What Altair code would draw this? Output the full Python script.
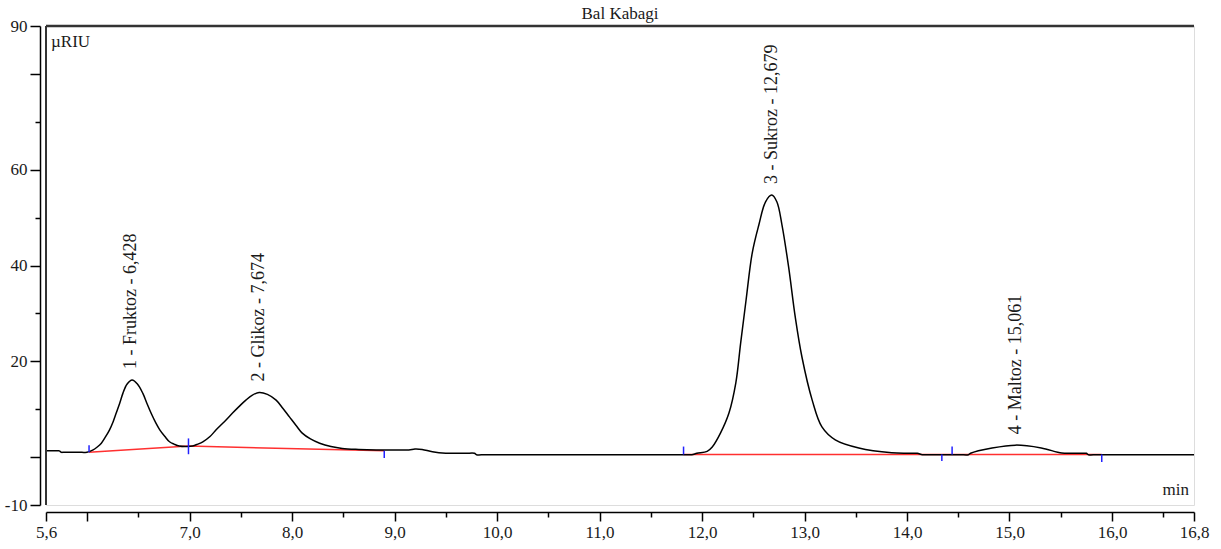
import altair as alt
import pandas as pd

# ---- data ----
trace_x = [5.60, 5.66, 5.71, 5.73, 5.75, 5.77, 5.85, 5.95, 6.00, 6.06, 6.10, 6.14, 6.18, 6.22, 6.255,
           6.285, 6.32, 6.35, 6.39, 6.44, 6.49, 6.545, 6.585, 6.627, 6.67, 6.71, 6.76, 6.805,
           6.85, 6.90, 6.98, 7.03, 7.08, 7.13, 7.20, 7.26, 7.34, 7.42, 7.49, 7.55, 7.61, 7.68,
           7.76, 7.845, 7.91, 7.975, 8.04, 8.10, 8.18, 8.27, 8.38, 8.49, 8.65, 8.82, 9.00, 9.14,
           9.20, 9.27, 9.37, 9.50, 9.60, 9.70, 9.78, 9.80, 9.88, 10.0, 10.4, 10.8, 11.2, 11.6,
           11.80, 11.90, 11.95, 12.05, 12.10, 12.18, 12.263, 12.33, 12.377, 12.43, 12.49, 12.555,
           12.62, 12.68, 12.73, 12.78, 12.845, 12.91, 12.975, 13.075, 13.17, 13.30, 13.53, 13.85,
           14.00, 14.10, 14.15, 14.25, 14.40, 14.52, 14.60, 14.62, 14.83, 15.06, 15.31, 15.51,
           15.62, 15.72, 15.75, 15.77, 15.85, 16.00, 16.20, 16.40, 16.60, 16.80]
trace_y = [1.3, 1.3, 1.3, 1.3, 1.0, 1.0, 1.0, 1.0, 1.0, 1.5, 2.1, 2.9, 4.2, 5.7, 7.4,
           9.2, 11.3, 13.3, 15.2, 16.1, 15.3, 13.3, 11.2, 9.1, 7.2, 5.7, 4.3, 3.2,
           2.7, 2.3, 2.2, 2.3, 2.7, 3.2, 4.3, 5.7, 7.4, 9.2, 10.7, 11.9, 12.9, 13.5,
           13.1, 11.9, 10.2, 8.4, 6.6, 5.0, 3.8, 2.9, 2.2, 1.8, 1.6, 1.5, 1.5, 1.5,
           1.7, 1.6, 1.1, 0.8, 0.8, 0.8, 0.8, 0.5, 0.5, 0.5, 0.5, 0.5, 0.5, 0.5,
           0.5, 0.5, 0.8, 1.2, 2.1, 5.0, 9.2, 15.5, 23.8, 32.8, 42.6, 48.5,
           53.3, 54.7, 53.3, 48.5, 39.7, 29.2, 20.9, 11.9, 6.3, 3.6, 1.9, 0.9,
           0.8, 0.8, 0.5, 0.5, 0.5, 0.5, 0.5, 0.8, 1.9, 2.5, 1.9, 0.85,
           0.8, 0.8, 0.8, 0.5, 0.5, 0.5, 0.5, 0.5, 0.5, 0.5]

peak_labels = ["1 - Fruktoz - 6,428", "2 - Glikoz - 7,674", "3 - Sukroz - 12,679", "4 - Maltoz - 15,061"]
peak_rt = [6.428, 7.674, 12.679, 15.061]
peak_top = [16.1, 13.5, 54.7, 2.5]

base_x = [6.02, 6.99, 8.90, 11.82, 15.90]
base_y = [1.0, 2.3, 1.3, 0.55, 0.55]
base_seg = [1, 1, 1, 2, 2]

mark_x = [6.02, 6.99, 8.90, 11.82, 14.34, 14.44, 15.90]
mark_y1 = [1.0, 0.6, 1.3, 0.55, 0.55, 0.55, 0.55]
mark_y2 = [2.5, 3.9, -0.2, 2.2, -0.8, 2.2, -1.0]

x_major = [5.6, 6.0, 7.0, 8.0, 9.0, 10.0, 11.0, 12.0, 13.0, 14.0, 15.0, 16.0, 16.8]
x_labeled = [5.6, 7.0, 8.0, 9.0, 10.0, 11.0, 12.0, 13.0, 14.0, 15.0, 16.0, 16.8]
x_minor = [i + q for i in range(5, 17) for q in (0.25, 0.5, 0.75) if 5.6 < i + q < 16.8]
x_ticks = sorted(x_major + x_minor)

y_ticks = [-10, -5, 0, 5, 10, 15, 20, 25, 30, 35, 40, 45, 50, 55, 60, 65, 70, 75, 80, 85, 90]
y_labeled = [90, 60, 40, 20, -10]
y_long = [90, 80, 60, 40, 20, 0, -10]

chart_title = "Bal Kabagi"
unit_label = "µRIU"
x_unit_label = "min"

W, H = 1148, 479
SERIF = "Liberation Serif"
TXT = "#1a1a1a"

trace = pd.DataFrame({"t": trace_x, "v": trace_y})
peaks = pd.DataFrame({"t": peak_rt, "v": peak_top, "lab": peak_labels})
base = pd.DataFrame({"t": base_x, "v": base_y, "seg": base_seg})
marks = pd.DataFrame({"t": mark_x, "v": mark_y1, "v2": mark_y2})

def js_list(vals):
    return "[" + ",".join(repr(float(v)) for v in vals) + "]"

x_scale = alt.Scale(domain=[5.6, 16.8], nice=False, zero=False)
y_scale = alt.Scale(domain=[-10, 90], nice=False, zero=False)

x_axis = alt.Axis(
    title=None, values=x_ticks, grid=False, offset=7,
    labelExpr=f"indexof({js_list(x_labeled)}, datum.value) >= 0 ? replace(format(datum.value, '.1f'), '.', ',') : ''",
    tickSize={"condition": {"test": f"indexof({js_list(x_major)}, datum.value) >= 0", "value": 9}, "value": 5},
    labelFlush=False, labelOverlap=False, labelPadding=3,
    labelFont=SERIF, labelFontSize=17, labelColor=TXT,
    domainColor="black", domainWidth=1.5, tickColor="black", tickWidth=1.5,
)
y_axis = alt.Axis(
    title=None, values=y_ticks, grid=False, offset=6,
    labelExpr=f"indexof({js_list(y_labeled)}, datum.value) >= 0 ? ('' + datum.value) : ''",
    tickSize={"condition": {"test": f"indexof({js_list(y_long)}, datum.value) >= 0", "value": 10}, "value": 5},
    labelFlush=False, labelOverlap=False, labelPadding=3,
    labelFont=SERIF, labelFontSize=17, labelColor=TXT,
    domainColor="black", domainWidth=1.5, tickColor="black", tickWidth=1.5,
)

red = alt.Chart(base).mark_line(color="#ff3030", strokeWidth=1.5).encode(
    x=alt.X("t:Q", scale=x_scale, axis=x_axis),
    y=alt.Y("v:Q", scale=y_scale, axis=y_axis),
    detail="seg:N",
)
line = alt.Chart(trace).mark_line(color="black", strokeWidth=1.5, interpolate="catmull-rom").encode(
    x=alt.X("t:Q", scale=x_scale),
    y=alt.Y("v:Q", scale=y_scale),
)
blue = alt.Chart(marks).mark_rule(color="#2222ff", strokeWidth=1.5).encode(
    x=alt.X("t:Q", scale=x_scale),
    y=alt.Y("v:Q", scale=y_scale),
    y2="v2:Q",
)
labels = alt.Chart(peaks).mark_text(
    angle=270, align="left", baseline="middle", dx=11,
    font=SERIF, fontSize=18, color=TXT,
).encode(
    x=alt.X("t:Q", scale=x_scale),
    y=alt.Y("v:Q", scale=y_scale),
    text="lab:N",
)

one = pd.DataFrame({"a": [0]})
top_edge = alt.Chart(one).mark_rule(color="#333333", strokeWidth=2.5).encode(
    x=alt.value(0), x2=alt.value(W), y=alt.value(0)
)
left_edge = alt.Chart(one).mark_rule(color="#333333", strokeWidth=2).encode(
    x=alt.value(0), y=alt.value(0), y2=alt.value(H)
)
title_txt = alt.Chart(one).mark_text(
    align="center", baseline="alphabetic", font=SERIF, fontSize=17, color=TXT, text=chart_title
).encode(x=alt.value(W / 2), y=alt.value(-7))
unit_txt = alt.Chart(one).mark_text(
    align="left", baseline="alphabetic", font=SERIF, fontSize=17, color=TXT, text=unit_label
).encode(x=alt.value(5), y=alt.value(21))
min_txt = alt.Chart(one).mark_text(
    align="right", baseline="alphabetic", font=SERIF, fontSize=17, color=TXT, text=x_unit_label
).encode(x=alt.value(1143), y=alt.value(469))

chart = alt.layer(red, line, blue, labels, top_edge, left_edge, title_txt, unit_txt, min_txt).properties(
    width=W, height=H,
    autosize=alt.AutoSizeParams(type="none"),
    padding={"left": 46, "top": 26, "right": 27, "bottom": 44},
).configure_view(stroke="#a8a8a8", strokeWidth=2).configure(background="white")

chart.save("out.html", embed_options={"renderer": "svg", "actions": False})
